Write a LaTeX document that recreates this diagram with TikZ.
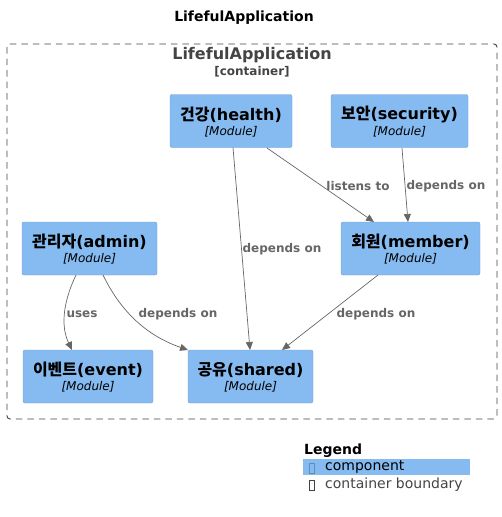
\documentclass[tikz,border=0pt]{standalone}
\usepackage{fontspec}
\setmainfont{DejaVu Sans}
\newfontfamily\kr{Noto Sans CJK KR}
\usetikzlibrary{arrows.meta}
\definecolor{compfill}{HTML}{85BBF0}
\definecolor{edgegray}{HTML}{666666}
\definecolor{boundgray}{HTML}{444444}
\begin{document}
\begin{tikzpicture}[x=1pt,y=-1pt,
  modbox/.style={draw=compfill!85!black, line width=0.4pt, fill=compfill, rounded corners=2pt, inner sep=0pt, align=center},
  rel/.style={draw=edgegray, line width=0.7pt, -{Triangle[length=8pt,width=7pt]}},
  rellabel/.style={text=edgegray, font=\bfseries\fontsize{12}{13}\selectfont, inner sep=1pt},
  mname/.style={font=\bfseries\fontsize{16}{18}\selectfont, inner sep=0pt},
  mtype/.style={font=\itshape\fontsize{12}{14}\selectfont, inner sep=0pt}
]
\useasboundingbox (0,0) rectangle (501,517);
\node[font=\bfseries\fontsize{14}{16}\selectfont] (title) at (244,18) {LifefulApplication};
\draw[boundgray, dash pattern=on 6.5pt off 5pt, rounded corners=3pt, line width=0.9pt] (7,44) rectangle (497,419);
\node[font=\bfseries\fontsize{16}{18}\selectfont, text=boundgray] (clabel) at (252,55) {LifefulApplication};
\node[font=\bfseries\fontsize{12}{14}\selectfont, text=boundgray] (ctype) at (252,72) {[container]};

\newcommand{\modnode}[6]{%
  \node[modbox, minimum width=#3pt, minimum height=53pt] (#1) at (#2) {};
  \node[mname] (#1n) at ([yshift=6.5pt]#1.center) {{\kr\bfseries #4}(#5)};
  \node[mtype] (#1t) at ([yshift=-10.5pt]#1.center) {[Module]};
}
\modnode{health}{231,121}{122}{건강}{health}{}
\modnode{security}{399.5,121}{137}{보안}{security}{}
\modnode{member}{410.5,248.5}{139}{회원}{member}{}
\modnode{admin}{89.5,248.5}{135}{관리자}{admin}{}
\modnode{event}{88,376.5}{130}{이벤트}{event}{}
\modnode{shared}{250.5,376.5}{125}{공유}{shared}{}

\coordinate (h1) at (233,147.5);
\coordinate (s1) at (250,350);
\draw[rel] (h1) -- (s1);
\node[rellabel] (l1) at (282,249) {depends on};

\coordinate (h2) at (267,148);
\coordinate (m2) at (374,222);
\draw[rel] (h2) -- (m2);
\node[rellabel] (l2) at (358,186) {listens to};

\coordinate (sc1) at (402,148);
\coordinate (m3) at (408,222);
\draw[rel] (sc1) -- (m3);
\node[rellabel] (l3) at (446,186) {depends on};

\coordinate (m4) at (378,275);
\coordinate (s4) at (282,350);
\draw[rel] (m4) -- (s4);
\node[rellabel] (l4) at (376,314) {depends on};

\coordinate (a1) at (76,275);
\coordinate (e1) at (72,350);
\draw[rel] (a1) .. controls (64,300) and (60,325) .. (e1);
\node[rellabel] (l5) at (82,314) {uses};

\coordinate (a2) at (103,275);
\coordinate (s2) at (188,350);
\draw[rel] (a2) .. controls (120,310) and (145,335) .. (s2);
\node[rellabel] (l6) at (178,314) {depends on};

% legend
\node[font=\bfseries\fontsize{14}{16}\selectfont, anchor=west, inner sep=0pt] (lg) at (304,451) {Legend};
\fill[compfill] (303,459) rectangle (470,475);
\draw[compfill!75!black, line width=0.4pt] (309,463) rectangle (314,473);
\node[font=\fontsize{14}{16}\selectfont, anchor=west, inner sep=0pt] (lc) at (325,467) {component};
\draw[boundgray, line width=0.4pt] (309,480) rectangle (314,490);
\node[font=\fontsize{14}{16}\selectfont, anchor=west, inner sep=0pt, text=boundgray] (lb) at (325,485) {container boundary};
\end{tikzpicture}
\end{document}
